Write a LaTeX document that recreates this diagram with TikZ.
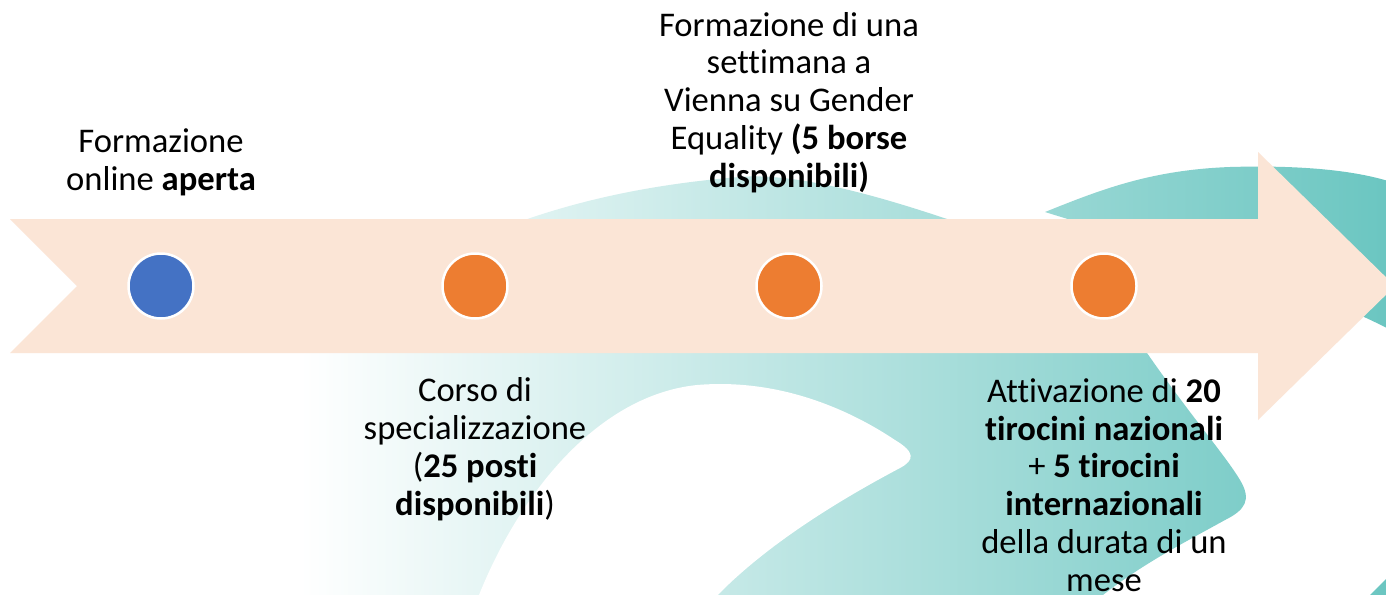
\documentclass[tikz,border=0pt]{standalone}
\usepackage{fontspec}
\setmainfont[Ligatures=NoCommon]{Carlito}
\definecolor{peach}{HTML}{FBE5D6}
\definecolor{dotblue}{HTML}{4472C4}
\definecolor{dotorange}{HTML}{ED7D31}
\definecolor{tealdark}{HTML}{6BC6C1}
\definecolor{tealmid}{HTML}{C6E9E7}
\begin{document}
\begin{tikzpicture}[x=1pt,y=-1pt,
  dot/.style={circle, minimum size=65pt, inner sep=0pt, draw=white, line width=2.5pt},
  lbl/.style={font=\fontsize{34.6}{37.7}\selectfont, align=center, inner sep=0pt, anchor=base, text=black}]
\clip (0,0) rectangle (1386,594);
\fill[white] (0,0) rectangle (1386,594);
% background swoosh shapes
\begin{scope}
  \clip (150,610) .. controls (250,330) and (450,200) .. (740,177)
        .. controls (800,172) and (890,200) .. (947,219)
        -- (1147,353)
        .. controls (1190,415) and (1225,455) .. (1240,480)
        .. controls (1252,500) and (1245,510) .. (1225,520)
        .. controls (1180,545) and (1130,570) .. (1085,610) -- cycle
        (1045,212) .. controls (1100,190) and (1150,170) .. (1230,167)
        .. controls (1300,165) and (1360,170) .. (1400,185)
        -- (1400,335) .. controls (1300,280) and (1150,245) .. (1045,212) -- cycle
        (1365,600) -- (1400,565) -- (1400,600) -- cycle;
  \shade[left color=white, middle color=tealmid, right color=tealdark] (300,0) rectangle (1386,594);
\end{scope}
\fill[white] (477,600) .. controls (520,490) and (600,395) .. (697,385)
  .. controls (780,378) and (850,410) .. (895,440)
  .. controls (915,452) and (915,460) .. (900,468)
  .. controls (830,505) and (760,550) .. (713,600) -- cycle;
% timeline arrow
\fill[peach] (10,219) -- (1258,219) -- (1258,152) -- (1395,286) -- (1258,420)
  -- (1258,353) -- (10,353) -- (77,286) -- cycle;
% milestones
\node[dot, fill=dotblue]   (c1) at (161,286) {};
\node[dot, fill=dotorange] (c2) at (475,286) {};
\node[dot, fill=dotorange] (c3) at (789,286) {};
\node[dot, fill=dotorange] (c4) at (1104,286) {};
% labels (anchor = baseline of the last line)
\node[lbl] (t1) at (161,190) {Formazione\\online \textbf{aperta}};
\node[lbl] (t2) at (475,515) {Corso di\\specializzazione\\(\textbf{25 posti}\\\textbf{disponibili})};
\node[lbl] (t3) at (789,187) {Formazione di una\\settimana a\\Vienna su Gender\\Equality \textbf{(5 borse}\\\textbf{disponibili)}};
\node[lbl] (t4) at (1104,591) {Attivazione di \textbf{20}\\\textbf{tirocini nazionali}\\+ \textbf{5 tirocini}\\\textbf{internazionali}\\della durata di un\\mese};
\end{tikzpicture}
\end{document}
